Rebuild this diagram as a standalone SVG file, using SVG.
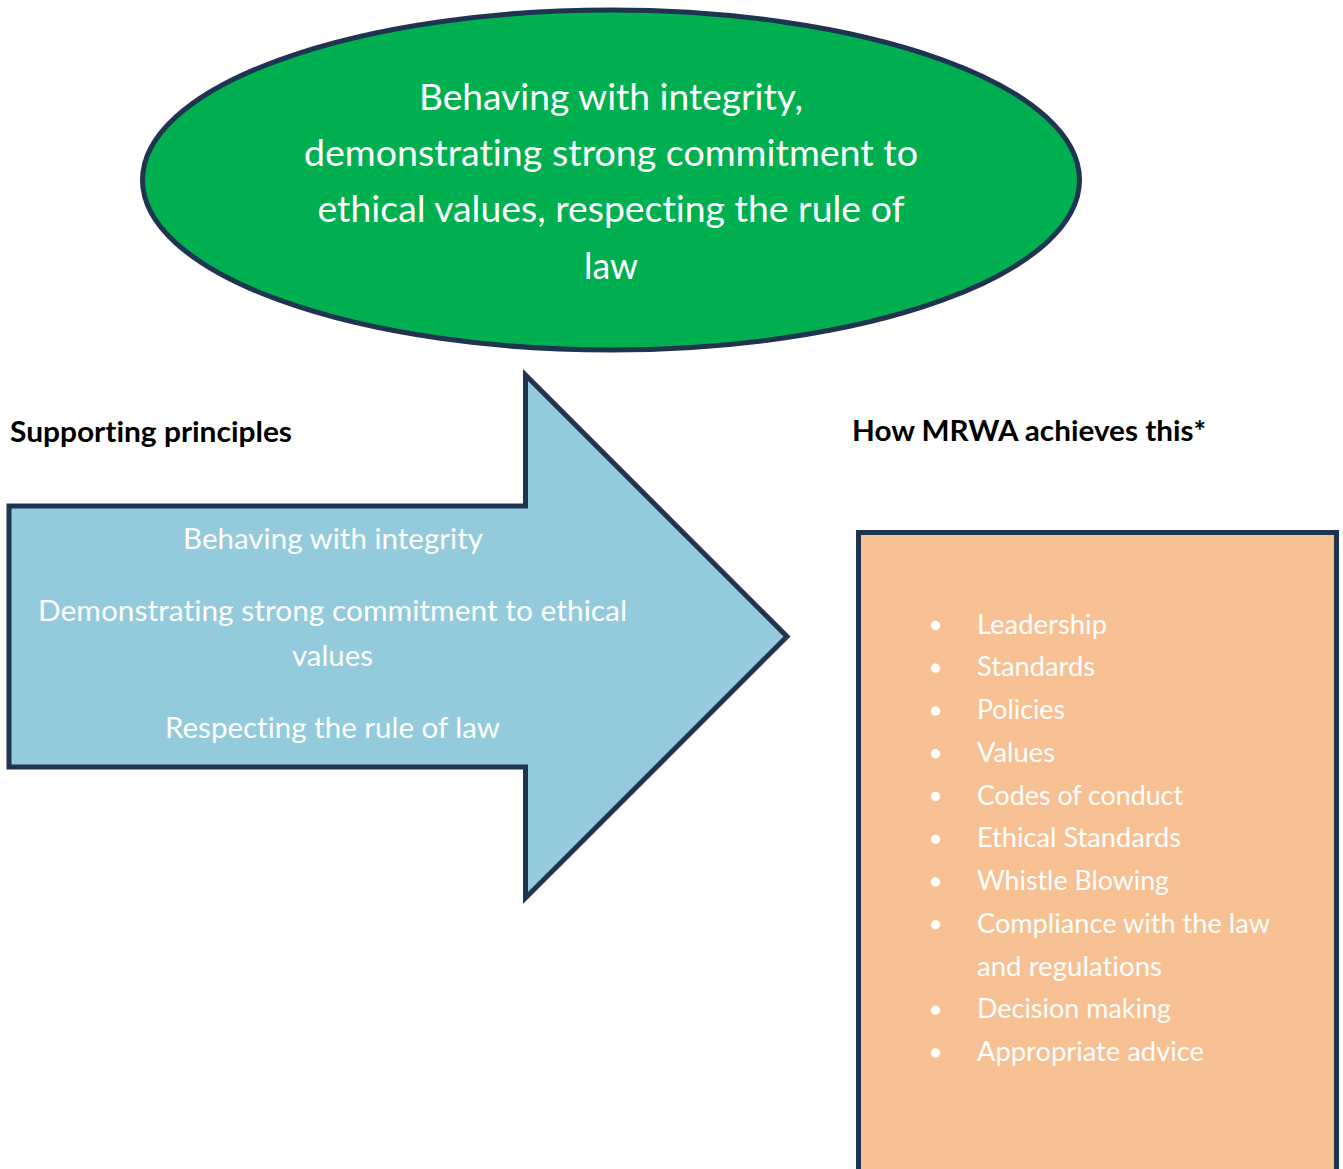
<svg xmlns="http://www.w3.org/2000/svg" width="1343" height="1169" viewBox="0 0 1343 1169">
<style>
text{font-variant-ligatures:none}
.shape{stroke:#1f3451;stroke-width:5;stroke-linejoin:miter}
.w{fill:#ffffff;font-family:Lato,"Open Sans","Liberation Sans",sans-serif}
.e{font-size:36px}
.a{font-size:29px}
.l{font-size:26px}
.h{fill:#000000;font-family:Lato,"Open Sans","Liberation Sans",sans-serif;font-weight:bold;font-size:29px}
</style>
<rect width="1343" height="1169" fill="#ffffff"/>
<g id="goal">
<ellipse class="shape" cx="611" cy="180" rx="468.5" ry="170" fill="#00b050"/>
<g class="w e" text-anchor="middle">
<text x="611" y="109.5" textLength="384" lengthAdjust="spacingAndGlyphs">Behaving with integrity,</text>
<text x="611" y="165.5" textLength="614" lengthAdjust="spacingAndGlyphs">demonstrating strong commitment to</text>
<text x="611" y="222" textLength="587" lengthAdjust="spacingAndGlyphs">ethical values, respecting the rule of</text>
<text x="611" y="278.5" textLength="54" lengthAdjust="spacingAndGlyphs">law</text>
</g>
</g>
<g id="supporting-heading">
<text class="h" x="10" y="441.5" textLength="282" lengthAdjust="spacingAndGlyphs">Supporting principles</text>
</g>
<g id="achieves-heading">
<text class="h" x="852" y="441" textLength="354" lengthAdjust="spacingAndGlyphs">How MRWA achieves this*</text>
</g>
<g id="principles-arrow">
<path class="shape" d="M9,506 L525.5,506 L525.5,375 L787,636.5 L525.5,898 L525.5,767 L9,767 Z" fill="#93cbdc"/>
<g class="w a" text-anchor="middle">
<text x="333" y="549.3" textLength="300" lengthAdjust="spacingAndGlyphs">Behaving with integrity</text>
<text x="332.5" y="620.7" textLength="589" lengthAdjust="spacingAndGlyphs">Demonstrating strong commitment to ethical</text>
<text x="332.5" y="666" textLength="81" lengthAdjust="spacingAndGlyphs">values</text>
<text x="332.5" y="738.3" textLength="335" lengthAdjust="spacingAndGlyphs">Respecting the rule of law</text>
</g>
</g>
<g id="achievements-box">
<rect class="shape" x="858.5" y="532.5" width="478" height="650" fill="#f8c193"/>
<g fill="#ffffff">
<circle cx="935.5" cy="625.5" r="4.7"/>
<circle cx="935.5" cy="668.3" r="4.7"/>
<circle cx="935.5" cy="711" r="4.7"/>
<circle cx="935.5" cy="753.8" r="4.7"/>
<circle cx="935.5" cy="796.5" r="4.7"/>
<circle cx="935.5" cy="839.3" r="4.7"/>
<circle cx="935.5" cy="882" r="4.7"/>
<circle cx="935.5" cy="924.8" r="4.7"/>
<circle cx="935.5" cy="1010.3" r="4.7"/>
<circle cx="935.5" cy="1053" r="4.7"/>
</g>
<g class="w l">
<text x="977" y="633.5" textLength="130" lengthAdjust="spacingAndGlyphs">Leadership</text>
<text x="977" y="676.3" textLength="118" lengthAdjust="spacingAndGlyphs">Standards</text>
<text x="977" y="719" textLength="88" lengthAdjust="spacingAndGlyphs">Policies</text>
<text x="977" y="761.8" textLength="78" lengthAdjust="spacingAndGlyphs">Values</text>
<text x="977" y="804.5" textLength="206" lengthAdjust="spacingAndGlyphs">Codes of conduct</text>
<text x="977" y="847.3" textLength="204" lengthAdjust="spacingAndGlyphs">Ethical Standards</text>
<text x="977" y="890" textLength="192" lengthAdjust="spacingAndGlyphs">Whistle Blowing</text>
<text x="977" y="932.8" textLength="293" lengthAdjust="spacingAndGlyphs">Compliance with the law</text>
<text x="977" y="975.5" textLength="185" lengthAdjust="spacingAndGlyphs">and regulations</text>
<text x="977" y="1018.3" textLength="194" lengthAdjust="spacingAndGlyphs">Decision making</text>
<text x="977" y="1061" textLength="227" lengthAdjust="spacingAndGlyphs">Appropriate advice</text>
</g>
</g>
</svg>
